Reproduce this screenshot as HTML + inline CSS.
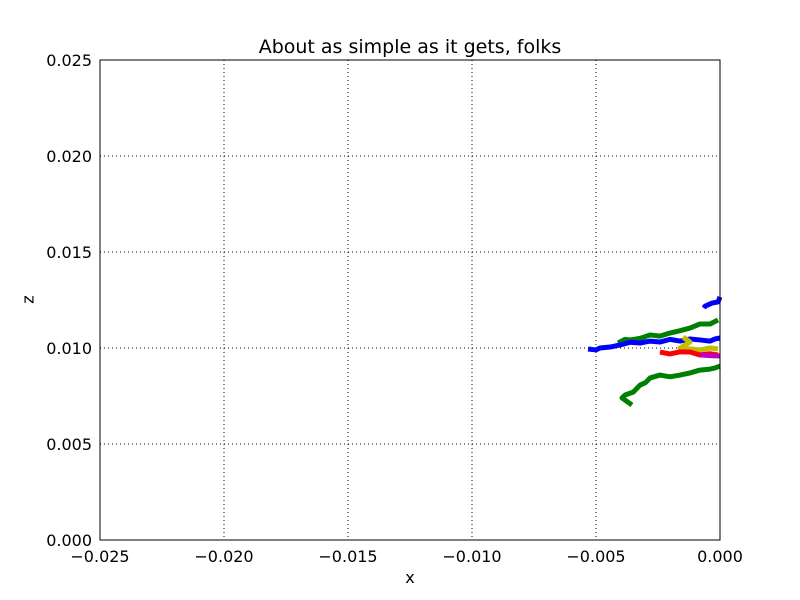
<!DOCTYPE html>
<html><head><meta charset="utf-8"><style>
html,body{margin:0;background:#fff;overflow:hidden;width:800px;height:600px;}
svg{display:block;}
svg text{font-family:"DejaVu Sans","Liberation Sans",sans-serif;}
</style></head><body>
<svg id="c" width="800" height="600"></svg>
<script>
const xTicks=[-0.025,-0.020,-0.015,-0.010,-0.005,0.000];
const yTicks=[0.000,0.005,0.010,0.015,0.020,0.025];
const xTickLabels=["\u22120.025","\u22120.020","\u22120.015","\u22120.010","\u22120.005","0.000"];
const yTickLabels=["0.000","0.005","0.010","0.015","0.020","0.025"];
// values in units of 1e-3
const blueX=[-5.32,-5.0,-4.84,-4.43,-4.03,-3.62,-3.22,-2.82,-2.42,-2.02,-1.61,-1.21,-0.81,-0.40,-0.20,0];
const blueZ=[9.95,9.90,10.0,10.05,10.16,10.30,10.26,10.36,10.31,10.45,10.36,10.47,10.42,10.36,10.47,10.52];
const blue2X=[-0.65,-0.60,-0.32,-0.08,0];
const blue2Z=[12.08,12.18,12.34,12.40,12.66];
const greenX=[-4.11,-3.83,-3.63,-3.22,-2.82,-2.42,-2.02,-1.61,-1.21,-0.81,-0.40,-0.08];
const greenZ=[10.26,10.45,10.42,10.50,10.68,10.62,10.78,10.90,11.04,11.25,11.25,11.46];
const green2X=[-3.55,-3.95,-3.83,-3.50,-3.22,-3.0,-2.82,-2.42,-2.02,-1.61,-1.21,-0.81,-0.40,-0.20,0];
const green2Z=[7.03,7.40,7.55,7.70,8.07,8.20,8.44,8.59,8.50,8.59,8.70,8.85,8.90,8.96,9.06];
const redX=[-2.42,-2.02,-1.61,-1.21,-0.81,-0.40,-0.08];
const redZ=[9.79,9.69,9.80,9.79,9.64,9.70,9.64];
const yellowX=[-1.49,-1.21,-1.61,-1.21,-0.81,-0.40,-0.08];
const yellowZ=[10.57,10.31,10.0,9.95,9.90,10.0,9.95];
const magentaX=[-0.81,-0.40,0];
const magentaZ=[9.64,9.60,9.58];

const L=100,R=720,T=60,B=540;
const sx=v=>L+(v+0.025)/0.025*(R-L);
const sy=v=>B-v/0.025*(B-T);
const svg=document.getElementById('c');
const NS='http://www.w3.org/2000/svg';
function mk(t,a){const e=document.createElementNS(NS,t);for(const k in a)e.setAttribute(k,a[k]);svg.appendChild(e);return e;}
xTicks.forEach((v,i)=>{
  const g=mk('line',{x1:sx(v),x2:sx(v),y1:T,y2:B,stroke:'#000','stroke-dasharray':'1,3','stroke-width':1});
  
  
  const t=mk('text',{x:sx(v),y:B+22,'text-anchor':'middle','font-size':16});
  t.textContent=xTickLabels[i];
  
  
});
yTicks.forEach((v,i)=>{
  const g=mk('line',{x1:L,x2:R,y1:sy(v),y2:sy(v),stroke:'#000','stroke-dasharray':'1,3','stroke-width':1});
  
  
  const t=mk('text',{x:L-8,y:sy(v)+6,'text-anchor':'end','font-size':16});
  t.textContent=yTickLabels[i];
  
  
});
const series=[[greenX,greenZ,'#008000','green-upper'],[green2X,green2Z,'#008000','green-lower'],[blueX,blueZ,'#0000ff','blue-series'],[blue2X,blue2Z,'#0000ff','blue-upper'],[yellowX,yellowZ,'#bfbf00','yellow-series'],[redX,redZ,'#ff0000','red-series'],[magentaX,magentaZ,'#bf00bf','magenta-series']];
series.forEach(s=>{
  const pts=s[0].map((x,i)=>sx(x/1000)+','+sy(s[1][i]/1000)).join(' ');
  const p=mk('polyline',{points:pts,fill:'none',stroke:s[2],'stroke-width':5,'stroke-linejoin':'round'});
  
  
});
const fr=mk('rect',{x:L,y:T,width:R-L,height:B-T,fill:'none',stroke:'#000','stroke-width':1});


</script>
<div style="position:absolute;left:0;top:0;width:800px;height:600px;pointer-events:none">
<div style="position:absolute;top:36px;width:820px;text-align:center;font:19px 'DejaVu Sans','Liberation Sans',sans-serif;">About as simple as it gets, folks</div>
<div style="position:absolute;top:568px;left:400px;width:20px;text-align:center;font:16px 'DejaVu Sans','Liberation Sans',sans-serif;">x</div>
<div style="position:absolute;top:290px;left:24px;transform:rotate(-90deg);font:16px 'DejaVu Sans','Liberation Sans',sans-serif;">z</div>
</div>
</body></html>
